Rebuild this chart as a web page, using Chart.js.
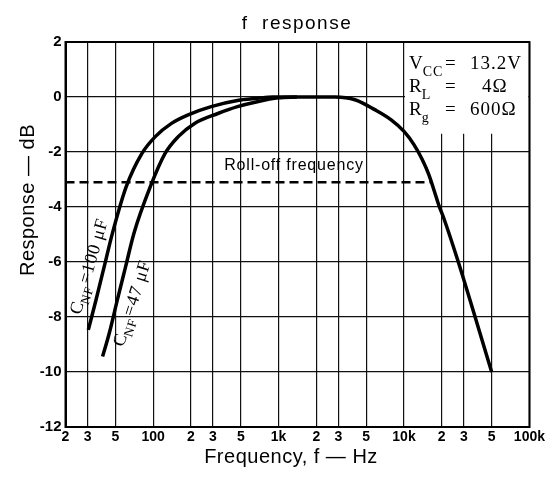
<!DOCTYPE html>
<html lang="en">
<head>
  <meta charset="UTF-8">
  <title>f response</title>
  <script src="https://cdn.jsdelivr.net/npm/chart.js"></script>
  <style>
    html, body { margin: 0; padding: 0; background: #fff; }
    #wrap { width: 547px; height: 480px; }
  </style>
</head>
<body>
<div id="wrap"><canvas id="respChart" width="547" height="480"></canvas></div>
<script>
  // tick positions on the log axis and their labels
  const freqTicks = [20, 30, 50, 100, 200, 300, 500, 1000, 2000, 3000, 5000, 10000, 20000, 30000, 50000, 100000];
  const freqLabels = ['2', '3', '5', '100', '2', '3', '5', '1k', '2', '3', '5', '10k', '2', '3', '5', '100k'];
  const dbTicks = [2, 0, -2, -4, -6, -8, -10, -12];

  // C_NF = 100uF curve (continues into the common high-frequency roll-off)
  const freqA = [30.4, 35, 40.7, 47.3, 61, 81.4, 104, 140, 190, 290, 470, 676, 900, 1000, 2000, 2820,
                 4060, 5840, 7900, 10000, 12000, 14000, 15800, 17300, 18900, 20700, 27100, 36900, 50000];
  const respA = [-8.47, -7.38, -6.17, -4.96, -3.26, -2.05, -1.44, -0.96, -0.65, -0.35, -0.13, -0.05, 0, 0, 0, 0,
                 -0.1, -0.46, -0.83, -1.25, -1.73, -2.28, -2.83, -3.37, -3.92, -4.39, -6, -8, -10];

  // C_NF = 47uF curve
  const freqB = [39.5, 44.6, 51.8, 60.3, 70.2, 94.9, 124.5, 158.5, 214, 328, 470, 676, 1000, 1400];
  const respB = [-9.44, -8.6, -7.38, -6.17, -4.96, -3.26, -2.05, -1.44, -0.96, -0.6, -0.35, -0.17, -0.03, 0];

  // roll-off frequency marker
  const rollFreq = [20, 16300];
  const rollResp = [-3.1, -3.1];

  const toPts = (xs, ys) => xs.map((x, i) => ({ x: x, y: ys[i] }));

  const sans = '"Liberation Sans", Arial, sans-serif';
  const serif = '"Liberation Serif", "DejaVu Serif", serif';

  // white box for the conditions, covering the grid in the upper right
  const boxPlugin = {
    id: 'condBox',
    beforeDatasetsDraw(chart) {
      const { ctx, chartArea, scales } = chart;
      const x0 = scales.x.getPixelForValue(10000);
      const yb = scales.y.getPixelForValue(-1.3);
      ctx.save();
      ctx.fillStyle = '#fff';
      ctx.fillRect(x0 + 1, chartArea.top + 1, chartArea.right - x0 - 2, yb - chartArea.top);
      ctx.restore();
    }
  };

  // text with a subscript part: [main, sub, rest]
  function subText(ctx, x, y, parts, size) {
    ctx.font = size + 'px ' + serif;
    ctx.fillText(parts[0], x, y);
    let w = ctx.measureText(parts[0]).width;
    ctx.font = Math.round(size * 0.72) + 'px ' + serif;
    ctx.fillText(parts[1], x + w - 1, y + size * 0.35);
    w += ctx.measureText(parts[1]).width;
    ctx.font = size + 'px ' + serif;
    ctx.fillText(parts[2], x + w + 1, y);
  }

  const textPlugin = {
    id: 'texts',
    afterDraw(chart) {
      const { ctx, chartArea, scales } = chart;
      const xs = scales.x;
      ctx.save();

      // frame
      ctx.strokeStyle = '#000';
      ctx.lineWidth = 2;
      ctx.strokeRect(chartArea.left, chartArea.top, chartArea.right - chartArea.left, chartArea.bottom - chartArea.top);

      ctx.fillStyle = '#000';
      ctx.textAlign = 'center';
      ctx.textBaseline = 'middle';

      // title
      ctx.font = '19px ' + sans;
      ctx.letterSpacing = '1.5px';
      ctx.fillText('f  response', 297, 24);

      // x axis title
      ctx.font = '20px ' + sans;
      ctx.letterSpacing = '0.5px';
      ctx.fillText('Frequency, f \u2014 Hz', 291, 457);

      // y axis title
      ctx.save();
      ctx.translate(28, 200);
      ctx.rotate(-Math.PI / 2);
      ctx.fillText('Response \u2014 dB', 0, 0);
      ctx.restore();

      // roll-off label
      ctx.font = '16px ' + sans;
      ctx.letterSpacing = '0.8px';
      ctx.fillText('Roll-off frequency', 294, 166);

      // conditions
      ctx.letterSpacing = '1px';
      ctx.textAlign = 'left';
      ctx.textBaseline = 'alphabetic';
      const bx = xs.getPixelForValue(10000) + 5;
      const rows = [
        ['V', 'CC', '13.2V', 69],
        ['R', 'L', '4\u03a9', 92],
        ['R', 'g', '600\u03a9', 115]
      ];
      rows.forEach(r => {
        ctx.font = '19px ' + serif;
        ctx.fillText(r[0], bx, r[3]);
        const w = ctx.measureText(r[0]).width;
        ctx.font = '14px ' + serif;
        ctx.fillText(r[1], bx + w - 1, r[3] + 7);
        ctx.font = '19px ' + serif;
        ctx.fillText('=', 445, r[3]);
        ctx.fillText(r[2], r[2].length > 3 ? 470 : 482, r[3]);
      });

      // curve labels
      ctx.letterSpacing = '0.8px';
      ctx.textBaseline = 'middle';
      const label = (parts, x, y, ang) => {
        ctx.save();
        ctx.translate(x, y);
        ctx.rotate(ang);
        subText(ctx, 0, 0, parts, 18);
        ctx.restore();
      };
      label(['C', 'NF', '=100 \u03bcF'], 76, 314, -1.29);
      label(['C', 'NF', '=47 \u03bcF'], 119, 346, -1.26);

      ctx.restore();
    }
  };

  new Chart(document.getElementById('respChart').getContext('2d'), {
    type: 'line',
    data: {
      datasets: [
        {
          label: 'C_NF = 100uF',
          data: toPts(freqA, respA),
          borderColor: '#000',
          borderWidth: 3.5,
          cubicInterpolationMode: 'monotone',
          pointRadius: 0,
          fill: false
        },
        {
          label: 'C_NF = 47uF',
          data: toPts(freqB, respB),
          borderColor: '#000',
          borderWidth: 3.5,
          cubicInterpolationMode: 'monotone',
          pointRadius: 0,
          fill: false
        },
        {
          label: 'Roll-off frequency',
          data: toPts(rollFreq, rollResp),
          borderColor: '#000',
          borderWidth: 2.5,
          borderDash: [9, 5],
          pointRadius: 0,
          fill: false
        }
      ]
    },
    options: {
      responsive: false,
      animation: false,
      layout: { padding: { top: 42, right: 11, left: 0, bottom: 0 } },
      plugins: {
        legend: { display: false },
        tooltip: { enabled: false }
      },
      scales: {
        x: {
          type: 'logarithmic',
          min: 20,
          max: 100000,
          afterBuildTicks(scale) {
            scale.ticks = freqTicks.map(v => ({ value: v }));
          },
          afterFit(scale) { scale.height = 53; },
          ticks: {
            autoSkip: false,
            maxRotation: 0,
            color: '#000',
            font: { family: sans, size: 14, weight: 'bold' },
            padding: 2,
            callback: (v, i) => freqLabels[i]
          },
          grid: { color: '#111', lineWidth: 1.2, drawTicks: false },
          border: { color: '#000', width: 2 }
        },
        y: {
          min: -12,
          max: 2,
          afterBuildTicks(scale) {
            scale.ticks = dbTicks.map(v => ({ value: v }));
          },
          afterFit(scale) { scale.width = 65.5; },
          ticks: {
            color: '#000',
            font: { family: sans, size: 15, weight: 'bold' },
            padding: 4,
            callback: v => String(v)
          },
          grid: { color: '#111', lineWidth: 1.2, drawTicks: false },
          border: { color: '#000', width: 2 }
        }
      }
    },
    plugins: [boxPlugin, textPlugin]
  });
</script>
</body>
</html>
